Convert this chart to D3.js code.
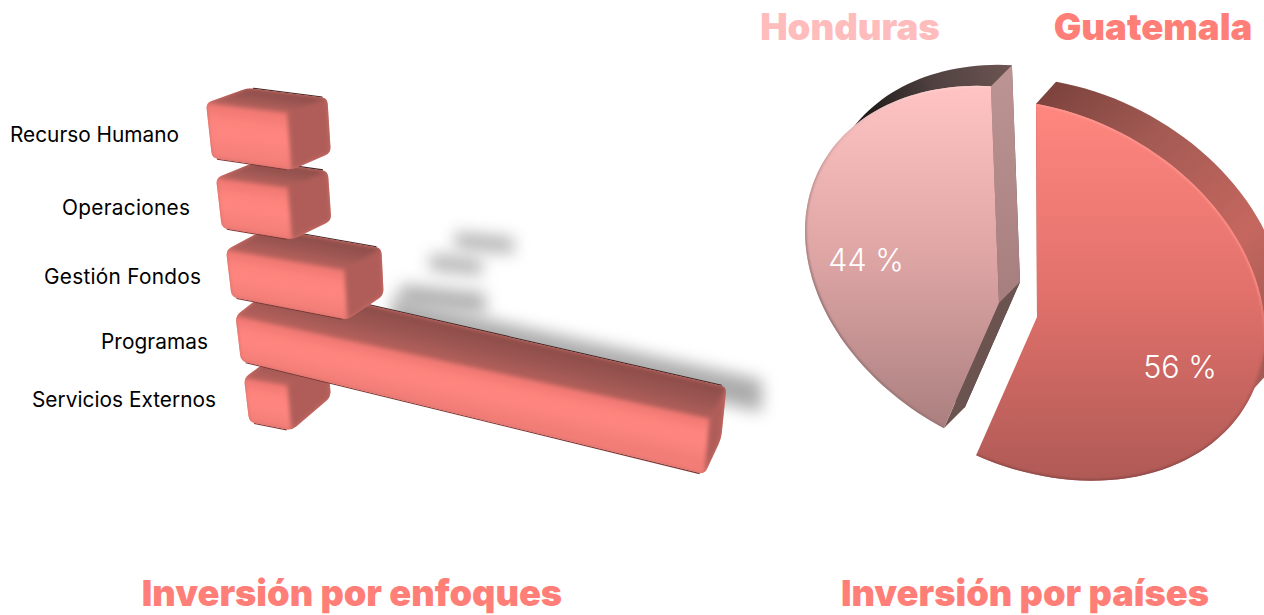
<!DOCTYPE html>
<html>
<head>
<meta charset="utf-8">
<script src="https://cdn.jsdelivr.net/npm/d3@7/dist/d3.min.js"></script>
<style>
html,body{margin:0;padding:0;background:#fff;overflow:hidden}
svg{display:block}
text{font-family:Inter,"Open Sans",sans-serif}
</style>
</head>
<body>
<svg id="c" width="1264" height="615"></svg>
<script>
// ---- data ----
const categories = ["Recurso Humano","Operaciones","Gestión Fondos","Programas","Servicios Externos"];
const values = [10.3, 9.1, 15, 60, 5.5];
const countries = ["Guatemala","Honduras"];
const shares = [56, 44];
const titles = ["Inversión por enfoques","Inversión por países"];

// ---- layout scales ----
const ord = r => d3.scaleOrdinal(categories, r);
const xLen   = d3.scaleLinear([0,60],[0,474]);
const ox     = ord([206,216,226,235.5,244]);
const oy     = ord([103,178,250,316,378]);
const h0     = ord([55,50,47,45,44]);
const slope  = ord([.123,.139,.17,.217,.17]);
const dy     = ord([-15,-17,-22,-32,-30]);
const labelX = ord([179,190,201,208,216]);
const labelY = ord([136,209,278,343,401]);
const labelW = ord([169,128,157,107,184]);
const shX    = ord([455,430,400,392,300]);
const shY    = ord([232,254,284,298,400]);
const skewAt = d3.scaleLinear([207,710],[6,-5]);
const depthX = d3.scaleLinear([207,288,710],[42,40,17]);

const svg = d3.select("#c");
const defs = svg.append("defs");
const blur = (id,s)=>defs.append("filter").attr("id",id)
  .attr("filterUnits","userSpaceOnUse").attr("x",0).attr("y",0).attr("width",1264).attr("height",615)
  .attr("color-interpolation-filters","sRGB")
  .append("feGaussianBlur").attr("stdDeviation",s);
blur("b1",2); blur("b05",1.1); blur("sh",8);

function grad(id,[x1,y1,x2,y2],stops){
  const g = defs.append("linearGradient").attr("id",id).attr("gradientUnits","userSpaceOnUse")
    .attr("x1",x1).attr("y1",y1).attr("x2",x2).attr("y2",y2);
  stops.forEach(([o,c])=>g.append("stop").attr("offset",o).attr("stop-color",c));
  return `url(#${id})`;
}
// gradient vector running across an edge a-b from point a towards point p
function across(a,b,p){
  const ex=b[0]-a[0], ey=b[1]-a[1], l=Math.hypot(ex,ey), nx=-ey/l, ny=ex/l;
  const dist=(p[0]-a[0])*nx+(p[1]-a[1])*ny;
  return [a[0],a[1],a[0]+nx*dist,a[1]+ny*dist];
}
function rounded(pts,r){
  const n=pts.length; let s="";
  pts.forEach((p,i)=>{
    const a=pts[(i+n-1)%n], b=pts[(i+1)%n];
    const la=Math.hypot(p[0]-a[0],p[1]-a[1]), lb=Math.hypot(p[0]-b[0],p[1]-b[1]);
    const ra=Math.min(r,la/2), rb=Math.min(r,lb/2);
    const p1=[p[0]+(a[0]-p[0])*ra/la,p[1]+(a[1]-p[1])*ra/la], p2=[p[0]+(b[0]-p[0])*rb/lb,p[1]+(b[1]-p[1])*rb/lb];
    s+=(i?"L":"M")+p1+"Q"+p+" "+p2;
  });
  return s+"Z";
}
const poly = pts => "M"+pts.join("L")+"Z";
// an edge a-b pulled in by r at both ends and moved off the bar by (ox,oy)
function edge(a,b,r,ox,oy){
  const l=Math.hypot(b[0]-a[0],b[1]-a[1]), ux=(b[0]-a[0])/l, uy=(b[1]-a[1])/l;
  return "M"+[a[0]+ux*r+ox,a[1]+uy*r+oy]+"L"+[b[0]-ux*r+ox,b[1]-uy*r+oy];
}

// ---- soft shadows ----
const data = categories.map((c,i)=>({c,v:values[i],i}));
data.filter(d=>d.c!=="Servicios Externos").forEach(d=>{
  const long = d.c==="Programas";
  const w = long ? xLen(d.v)*.78 : xLen(d.v)*.72;
  const h = long ? 32 : (d.c==="Gestión Fondos"?22:16);
  const s = long ? .222 : .1;
  const x=shX(d.c), y=shY(d.c);
  svg.append("path").attr("filter","url(#sh)").attr("fill",long?"#acacac":"#b2b2b2")
    .attr("d",poly([[x,y],[x+w,y+w*s],[x+w,y+w*s+h],[x,y+h]]));
});

// ---- 3-D bars, drawn bottom up ----
const bars = [...data].reverse();
bars.forEach(d=>{
  const c=d.c, L=xLen(d.v), x=ox(c), y=oy(c), m=slope(c);
  const TL=[x,y], TR=[x+L,y+L*m];
  const hL=h0(c), hR=hL+L*.022;
  const BL=[x+skewAt(x),y+hL], BR=[TR[0]+skewAt(TR[0]),TR[1]+hR];
  const dxL=depthX(x), dxR=depthX(TR[0]), dY=dy(c);
  const bTL=[TL[0]+dxL,TL[1]+dY], bTR=[TR[0]+dxR,TR[1]+dY];
  const bBR=[BR[0]+dxR*.98,BR[1]+dY*1.12];
  const sil=[TL,bTL,bTR,bBR,BR,BL];
  const shape=rounded(sil,6);
  const id="bar"+d.i;
  defs.append("clipPath").attr("id",id+"c").append("path").attr("d",shape);
  const g=svg.append("g");
  // thin dark rim along the back and the underside only
  g.append("path").attr("d",edge(bTL,bTR,5,0,-.3)).attr("fill","none").attr("stroke","#3c2624").attr("stroke-width",1.3);
  g.append("path").attr("d",edge(BL,BR,5,0,.4)).attr("fill","none").attr("stroke","#7c3a37").attr("stroke-width",1.3);
  g.append("path").attr("d",shape).attr("fill","#d2716b");
  const inner=g.append("g").attr("clip-path",`url(#${id}c)`).append("g").attr("filter","url(#b1)");
  // top face: dark at the back, lighter towards the front
  inner.append("path").attr("d",poly([TL,bTL,bTR,TR]))
    .attr("fill",grad(id+"t",across(bTL,bTR,TL),[[0,"#8b4c48"],[.55,"#a05854"],[1,"#b9625d"]]));
  // front face
  inner.append("path").attr("d",poly([TL,TR,BR,BL]))
    .attr("fill",grad(id+"f",across(TL,TR,BL),[[0,"#ee7771"],[.3,"#fd837d"],[.55,"#ff8680"],[1,"#f27d77"]]));
  // end face
  inner.append("path").attr("d",poly([TR,bTR,bBR,BR])).attr("fill","#b05d59");
});

// ---- bar labels ----
svg.append("g").selectAll("text").data(categories).join("text")
  .attr("x",labelX).attr("y",labelY).attr("text-anchor","end").attr("dominant-baseline","middle")
  .attr("font-size",20.8).attr("font-weight",400).attr("fill","#000")
  .attr("textLength",labelW).attr("lengthAdjust","spacing").text(d=>d);

// ---- exploded pie ----
const pie = d3.pie().sort(null)(shares);
const rad = a=>a*Math.PI/180;
const phiRange = [[-91,106.5],[112.5,260]];
const sliceC = d3.scaleOrdinal(countries,[[1040,290],[1030,275]]);
const apexAt = d3.scaleOrdinal(countries,[[1037,317],[999,303]]);
const depth  = d3.scaleOrdinal(countries,[[20,-22],[21,-21]]);
const vRad   = d3.scaleOrdinal(countries,[185.5,184]);
const ell = (c,f,n)=>[c[0]+225*Math.cos(f),c[1]+44*Math.cos(f)+vRad(n)*Math.sin(f)];
const arcPts = (c,s,i)=>{
  const phi=d3.scaleLinear([s.startAngle,s.endAngle],phiRange[i].map(rad));
  return d3.range(0,1.0001,1/80).map(t=>ell(c,phi(s.startAngle+(s.endAngle-s.startAngle)*t),countries[i]));
};
const line = d3.line();

pie.forEach((s,i)=>{
  const name=countries[i], c=sliceC(name), ap=apexAt(name), dp=depth(name);
  const front=arcPts(c,s,i);
  const back=front.map(p=>[p[0]+dp[0],p[1]+dp[1]]);
  const apB=[ap[0]+dp[0],ap[1]+dp[1]];
  const g=svg.append("g");
  const first=front[0], last=front[front.length-1];
  if(i===0){
    const side=grad("gs",[1040,80,1264,330],[[0,"#78403b"],[.35,"#a35a53"],[.75,"#c5675f"],[1,"#a45b55"]]);
    // the rim is only seen on the upper right, where the slice turns away
    g.append("path").attr("d",line([ap,first,...back.slice(0,45),front[44]])+"Z").attr("fill",side);
  }else{
    g.append("path").attr("d",line([apB,...back])+"Z")
      .attr("fill",grad("hs",[870,110,1013,68],[[0,"#221c1c"],[.45,"#4f4140"],[1,"#6d5552"]]));
    g.append("path").attr("d",poly([ap,apB,back[0],first])).attr("fill","#6b5450");
    g.append("path").attr("d",poly([last,back[back.length-1],apB,ap]))
      .attr("fill",grad("hr",[0,68,0,303],[[0,"#bd9494"],[1,"#a67e7e"]]));
  }
  const cid="pc"+i, fpath=line([ap,...front])+"Z";
  defs.append("clipPath").attr("id",cid).append("path").attr("d",fpath);
  g.append("path").attr("d",fpath)
    .attr("fill",i===0
      ? grad("gf",[0,103,0,478],[[0,"#ff8780"],[.5,"#e2716b"],[1,"#b05a56"]])
      : grad("hf",[0,89,0,434],[[0,"#ffc3c3"],[.5,"#dda4a4"],[1,"#a97e7e"]]));
  // bevelled rim, soft and only inside the slice
  g.append("g").attr("clip-path",`url(#${cid})`).append("path").attr("d",line(front))
    .attr("fill","none").attr("stroke-width",3).attr("filter","url(#b05)")
    .attr("stroke",i===0
      ? grad("gr",[0,103,0,478],[[0,"#ff9a92"],[.5,"#ff8d85"],[.72,"#b05a56"],[1,"#8a4845"]])
      : grad("hrim",[0,89,0,434],[[0,"#ffd0d0"],[.25,"#c09292"],[.6,"#8e7070"],[1,"#967272"]]));
});

// ---- texts ----
const pctPos = d3.scaleOrdinal(shares,[[1180,370],[866,263]]);
svg.append("g").selectAll("text").data(shares).join("text")
  .attr("x",d=>pctPos(d)[0]).attr("y",d=>pctPos(d)[1]).attr("text-anchor","middle").attr("dominant-baseline","middle")
  .attr("font-size",30.5).attr("font-weight",350).attr("fill","#fff").text(d=>d+" %");

const cCol = d3.scaleOrdinal(countries,["#ff7f78","#ffbcbc"]);
const cPos = d3.scaleOrdinal(countries,[1153,850]);
svg.append("g").selectAll("text").data(countries).join("text")
  .attr("x",cPos).attr("y",40).attr("text-anchor","middle")
  .attr("font-size",36.6).attr("font-weight",900).attr("fill",cCol).text(d=>d);

const tPos = d3.scaleOrdinal(titles,[352,1025]);
svg.append("g").selectAll("text").data(titles).join("text")
  .attr("x",tPos).attr("y",606).attr("text-anchor","middle")
  .attr("font-size",36.2).attr("font-weight",900).attr("fill","#ff7f78").text(d=>d);
</script>
</body>
</html>
